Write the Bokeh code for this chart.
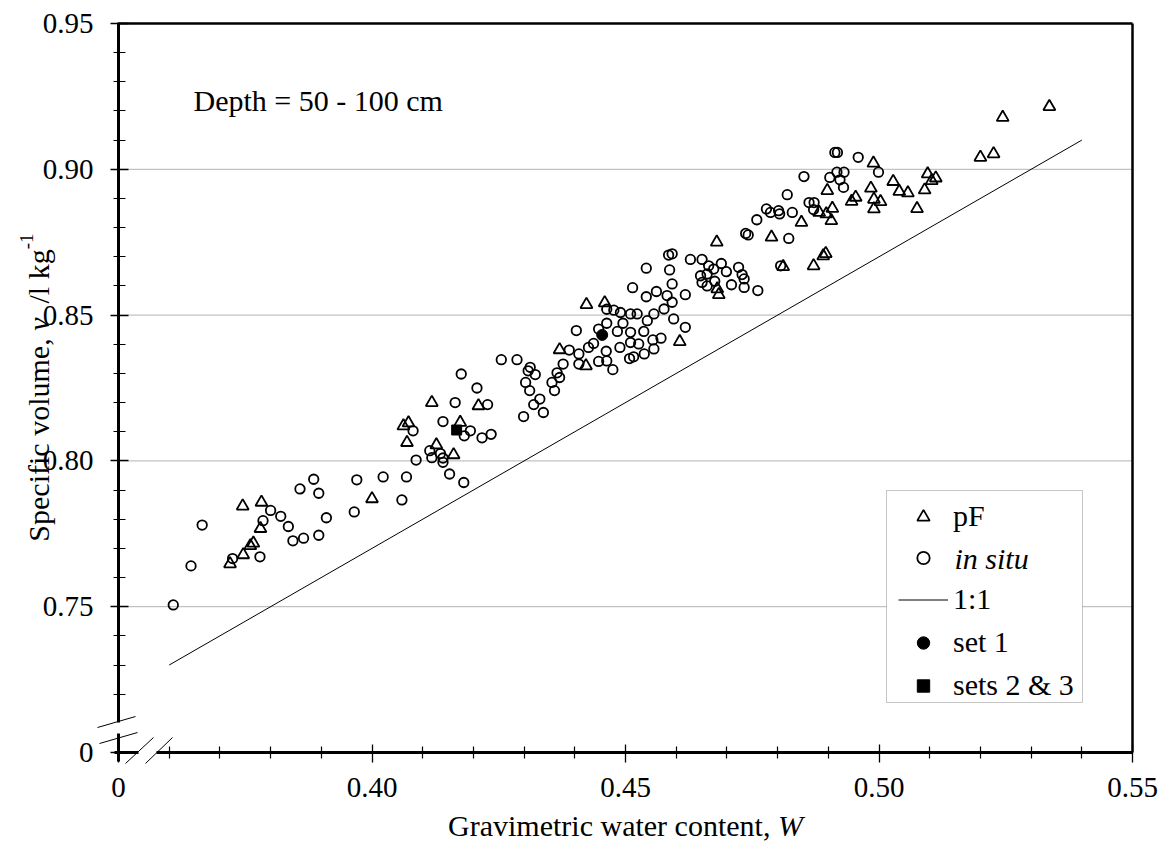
import math
from bokeh.plotting import figure
from bokeh.models import (FixedTicker, NumeralTickFormatter, LinearAxis, Range1d,
                          Legend, LegendItem, Label, Arrow, BoxAnnotation)
from bokeh.core.properties import value
from bokeh.embed import file_html
from bokeh.resources import INLINE

FONT = "Liberation Serif"
FS = 29      # tick labels
TS = 30      # other texts

# ---------------- data ----------------
pf_w = [0.3720, 0.3746, 0.3760, 0.3766, 0.3745, 0.3782, 0.3780,
        0.4000, 0.4062, 0.4072, 0.4069, 0.4118, 0.4127, 0.4161, 0.4174, 0.4210,
        0.4370, 0.4422, 0.4423, 0.4459, 0.4607,
        0.4681, 0.4684, 0.4680, 0.4788, 0.4811, 0.4871, 0.4890, 0.4895, 0.4847,
        0.4882, 0.4896, 0.4906, 0.4908, 0.4898, 0.4946, 0.4954, 0.4984, 0.4989,
        0.4990, 0.5003, 0.4990, 0.5028, 0.5040, 0.5057, 0.5096, 0.5112, 0.5104,
        0.5090, 0.5075, 0.5200, 0.5226, 0.5244, 0.5336]
pf_v = [0.7647, 0.7678, 0.7709, 0.7718, 0.7845, 0.7858, 0.7768,
        0.7870, 0.8120, 0.8130, 0.8063, 0.8200, 0.8055, 0.8021, 0.8132, 0.8189,
        0.8381, 0.8326, 0.8536, 0.8542, 0.8409,
        0.8590, 0.8570, 0.8750, 0.8767, 0.8666, 0.8669, 0.8703, 0.8711, 0.8818,
        0.8852, 0.8847, 0.8824, 0.8866, 0.8927, 0.8890, 0.8904, 0.8935, 0.9021,
        0.8897, 0.8889, 0.8864, 0.8958, 0.8924, 0.8919, 0.8984, 0.8970, 0.8961,
        0.8929, 0.8865, 0.9041, 0.9053, 0.9178, 0.9215]

situ_w = [0.3608, 0.3643, 0.3725, 0.3779, 0.3844, 0.3665, 0.3785, 0.3800, 0.3820,
          0.3835, 0.3865, 0.3895, 0.3910, 0.3965,
          0.3858, 0.3885, 0.3895, 0.3970, 0.4022, 0.4059, 0.4068, 0.4081, 0.4087,
          0.4114, 0.4118, 0.4135, 0.4140, 0.4140, 0.4140, 0.4153, 0.4164, 0.4181,
          0.4182, 0.4194, 0.4207, 0.4217, 0.4228, 0.4235, 0.4176,
          0.4514, 0.4541, 0.4561, 0.4582, 0.4592, 0.4618, 0.4463, 0.4477, 0.4490,
          0.4510, 0.4523, 0.4556, 0.4576, 0.4592, 0.4595, 0.4543, 0.4495, 0.4463,
          0.4618, 0.4403, 0.4447, 0.4484, 0.4510, 0.4536, 0.4437, 0.4427, 0.4462,
          0.4489, 0.4510, 0.4526, 0.4554, 0.4570, 0.4556, 0.4537, 0.4516, 0.4508,
          0.4463, 0.4447, 0.4475, 0.4408, 0.4408, 0.4389, 0.4377, 0.4365, 0.4370,
          0.4355, 0.4360, 0.4255, 0.4286, 0.4312, 0.4308, 0.4322, 0.4303, 0.4311,
          0.4331, 0.4319, 0.4338, 0.4299,
          0.4913, 0.4918, 0.4959, 0.4999, 0.4852, 0.4903, 0.4917, 0.4931, 0.4923,
          0.4930, 0.4819, 0.4862, 0.4872, 0.4871, 0.4778, 0.4786, 0.4802, 0.4804,
          0.4829, 0.4759, 0.4737, 0.4742, 0.4822, 0.4592, 0.4585, 0.4541, 0.4587,
          0.4628, 0.4651, 0.4664, 0.4674, 0.4689, 0.4648, 0.4661, 0.4699, 0.4723,
          0.4730, 0.4734, 0.4651, 0.4661, 0.4676, 0.4709, 0.4734, 0.4761, 0.4806]
situ_v = [0.7506, 0.7640, 0.7665, 0.7671, 0.7726, 0.7780, 0.7795, 0.7830, 0.7810,
          0.7775, 0.7735, 0.7745, 0.7805, 0.7825,
          0.7904, 0.7937, 0.7889, 0.7935, 0.7945, 0.7866, 0.7945, 0.8103, 0.8003,
          0.8035, 0.8011, 0.8025, 0.8010, 0.7995, 0.8135, 0.7955, 0.8200, 0.7926,
          0.8086, 0.8103, 0.8250, 0.8079, 0.8193, 0.8091, 0.8298,
          0.8594, 0.8563, 0.8581, 0.8567, 0.8607, 0.8570, 0.8520, 0.8517, 0.8509,
          0.8504, 0.8504, 0.8504, 0.8521, 0.8544, 0.8487, 0.8481, 0.8472, 0.8472,
          0.8458, 0.8447, 0.8452, 0.8444, 0.8441, 0.8444, 0.8403, 0.8389, 0.8376,
          0.8389, 0.8406, 0.8401, 0.8415, 0.8421, 0.8384, 0.8367, 0.8357, 0.8351,
          0.8343, 0.8341, 0.8313, 0.8332, 0.8367, 0.8380, 0.8332, 0.8302, 0.8286,
          0.8269, 0.8241, 0.8347, 0.8347, 0.8321, 0.8309, 0.8296, 0.8269, 0.8241,
          0.8212, 0.8193, 0.8166, 0.8152,
          0.9058, 0.9058, 0.9041, 0.8990, 0.8975, 0.8972, 0.8990, 0.8990, 0.8964,
          0.8938, 0.8913, 0.8886, 0.8886, 0.8862, 0.8864, 0.8852, 0.8858, 0.8847,
          0.8852, 0.8827, 0.8780, 0.8775, 0.8763, 0.8710, 0.8706, 0.8661, 0.8655,
          0.8691, 0.8691, 0.8669, 0.8658, 0.8677, 0.8635, 0.8641, 0.8649, 0.8664,
          0.8639, 0.8624, 0.8612, 0.8600, 0.8616, 0.8604, 0.8595, 0.8584, 0.8669]

set1_w = [0.4454]
set1_v = [0.8432]
set23_w = [0.4167]
set23_v = [0.8106]

line_w = [0.360, 0.540]   # 1:1 line
line_v = [0.730, 0.910]

x_ticks = [0.35, 0.40, 0.45, 0.50, 0.55]
x_tick_labels = ["0", "0.40", "0.45", "0.50", "0.55"]
x_minor = [0.36, 0.37, 0.38, 0.39, 0.41, 0.42, 0.43, 0.44, 0.46, 0.47, 0.48,
           0.49, 0.51, 0.52, 0.53, 0.54]
y_ticks = [0.70, 0.75, 0.80, 0.85, 0.90, 0.95]
y_tick_labels = ["0", "0.75", "0.80", "0.85", "0.90", "0.95"]
y_minor = [0.72, 0.73, 0.74, 0.76, 0.77, 0.78, 0.79, 0.81, 0.82, 0.83, 0.84,
           0.86, 0.87, 0.88, 0.89, 0.91, 0.92, 0.93, 0.94]
grid_ticks = [0.75, 0.80, 0.85, 0.90]

# ---------------- layout ----------------
W, H = 1170, 844
FL, FT, FRX, FBY = 118, 23, 1132, 752      # data-area edges in page pixels
X0, X1 = 0.35, 0.55
Y0, Y1 = 0.70, 0.95
KX = (FRX - FL) / (X1 - X0)
KY = (FBY - FT) / (Y1 - Y0)


def dx(sx):
    return X0 + (sx - FL) / KX


def dy(sy):
    return Y0 + (FBY - sy) / KY


p = figure(width=W, height=H, x_range=Range1d(dx(0), dx(W)),
           y_range=Range1d(dy(H), dy(0)),
           output_backend="svg", toolbar_location=None,
           x_axis_location=None, y_axis_location=None,
           min_border_left=0, min_border_bottom=0, min_border_top=0,
           min_border_right=0)
p.outline_line_color = None
p.background_fill_color = "white"
p.border_fill_color = "white"
p.grid.visible = False


def style_axis(ax, tin, tout, mtin, mtout, standoff, lw=3):
    ax.axis_line_width = lw
    ax.axis_line_color = "black"
    ax.major_tick_in = tin
    ax.major_tick_out = tout
    ax.minor_tick_in = mtin
    ax.minor_tick_out = mtout
    ax.major_tick_line_width = 1.3
    ax.minor_tick_line_width = 1.2
    ax.major_label_text_font = FONT
    ax.major_label_text_font_size = f"{FS}px"
    ax.major_label_text_color = "black"
    ax.major_label_standoff = standoff


xfmt = {t: s for t, s in zip(x_ticks, x_tick_labels)}
yfmt = {t: s for t, s in zip(y_ticks, y_tick_labels)}

# x axis: main part and the short stub before the break
xa = LinearAxis(fixed_location=Y0, bounds=(dx(156), X1),
                ticker=FixedTicker(ticks=x_ticks[1:], minor_ticks=x_minor),
                formatter=NumeralTickFormatter(format="0.00"),
                major_label_overrides={t: xfmt[t] for t in x_ticks[1:]})
style_axis(xa, 8, 10, 6, 6, 15)
p.add_layout(xa, "below")
xs = LinearAxis(fixed_location=Y0, bounds=(dx(114), dx(138)),
                ticker=FixedTicker(ticks=x_ticks[:1], minor_ticks=[]),
                major_label_overrides={x_ticks[0]: xfmt[x_ticks[0]]})
style_axis(xs, 8, 10, 6, 6, 15)
p.add_layout(xs, "below")

# y axis: main part and the short stub below the break
ya = LinearAxis(fixed_location=X0, bounds=(dy(722), Y1),
                ticker=FixedTicker(ticks=y_ticks[1:], minor_ticks=y_minor),
                formatter=NumeralTickFormatter(format="0.00"),
                major_label_overrides={t: yfmt[t] for t in y_ticks[1:]})
style_axis(ya, 10, 8, 7, 5, 17)
p.add_layout(ya, "left")
ys = LinearAxis(fixed_location=X0, bounds=(dy(761), dy(733)),
                ticker=FixedTicker(ticks=y_ticks[:1], minor_ticks=[]),
                major_label_overrides={y_ticks[0]: yfmt[y_ticks[0]]})
style_axis(ys, 10, 8, 7, 5, 17)
p.add_layout(ys, "left")

# top and right frame lines
top_ax = LinearAxis(fixed_location=Y1, ticker=FixedTicker(ticks=[]), bounds=(dx(116.5), X1),
                    major_label_text_font_size="0px")
style_axis(top_ax, 0, 0, 0, 0, 0, lw=2.5)
p.add_layout(top_ax, "above")
right_ax = LinearAxis(fixed_location=X1, ticker=FixedTicker(ticks=[]), bounds=(Y0, Y1),
                      major_label_text_font_size="0px")
style_axis(right_ax, 0, 0, 0, 0, 0, lw=2.5)
p.add_layout(right_ax, "right")

# dotted horizontal grid lines
p.segment(x0=[X0] * len(grid_ticks), y0=grid_ticks, x1=[X1] * len(grid_ticks),
          y1=grid_ticks, line_color="#666666", line_dash="1 1", line_width=1)

# ---------------- glyphs ----------------
r_pf = p.scatter(pf_w, pf_v, marker="triangle", size=12, fill_color=None,
                 line_color="black", line_width=1.8)
r_situ = p.scatter(situ_w, situ_v, marker="circle", size=9.5, fill_color=None,
                   line_color="black", line_width=1.8)
r_line = p.line(line_w, line_v, line_color="black", line_width=1)
r_s1 = p.scatter(set1_w, set1_v, marker="circle", size=11, fill_color="black",
                 line_color="black")
r_s23 = p.scatter(set23_w, set23_v, marker="square", size=10, fill_color="black",
                  line_color="black")

# ---------------- axis-break marks ----------------
for (x0, y0, x1, y1) in [(97, 727, 135, 716), (99, 743, 137, 732),
                         (125, 763, 153, 737), (145, 763, 172, 737)]:
    p.add_layout(Arrow(end=None, x_start=dx(x0), y_start=dy(y0), x_end=dx(x1),
                       y_end=dy(y1), line_color="black", line_width=1))

# ---------------- legend ----------------
p.add_layout(BoxAnnotation(left=dx(886), right=dx(1082), top=dy(490), bottom=dy(702),
                           fill_color="white", fill_alpha=1, line_color="#444444",
                           line_width=1))
legend = Legend(items=[
    LegendItem(label=value("pF"), renderers=[r_pf]),
    LegendItem(label=value(" "), renderers=[r_situ]),
    LegendItem(label=value("1:1"), renderers=[r_line]),
    LegendItem(label=value("set 1"), renderers=[r_s1]),
    LegendItem(label=value("sets 2 & 3"), renderers=[r_s23]),
], location=(898, H - 702), glyph_width=50, glyph_height=31,
    label_height=31, spacing=9, padding=0, label_standoff=5, margin=0,
    border_line_color=None, background_fill_alpha=0,
    label_text_font=FONT, label_text_font_size=f"{TS}px", label_text_color="black")
p.add_layout(legend)

p.add_layout(Label(x=dx(954), y=dy(557.5), text="in situ", text_font=FONT,
                   text_font_size=f"{TS}px", text_font_style="italic",
                   text_color="black", text_baseline="middle", text_align="left"))

# ---------------- texts ----------------
p.add_layout(Label(x=dx(193), y=dy(100), text="Depth = 50 - 100 cm", text_font=FONT,
                   text_font_size=f"{TS}px", text_color="black",
                   text_baseline="alphabetic"))

TIMES = {' ': 250, 'S': 556, 'p': 500, 'e': 444, 'c': 444, 'i': 278, 'f': 333,
         'o': 500, 'v': 500, 'l': 278, 'u': 500, 'm': 778, ',': 250, '/': 278,
         'k': 500, 'g': 500, '-': 333, '1': 500, 'G': 722, 'r': 333, 'a': 444,
         't': 278, 'w': 722, 'n': 500}
TIMES_IT = {'v': 444, 'W': 833}


def tw(s, size, table):
    return sum(table.get(c, 500) for c in s) * size / 1000.0


# x axis title
xt1 = "Gravimetric water content, "
xt2 = "W"
total = tw(xt1, TS, TIMES) + tw(xt2, TS, TIMES_IT)
sx = (FL + FRX) / 2 - total / 2
p.add_layout(Label(x=dx(sx), y=dy(825), text=xt1, text_font=FONT,
                   text_font_size=f"{TS}px", text_color="black",
                   text_baseline="alphabetic"))
p.add_layout(Label(x=dx(sx + tw(xt1, TS, TIMES)), y=dy(825), text=xt2, text_font=FONT,
                   text_font_size=f"{TS}px", text_font_style="italic", text_color="black",
                   text_baseline="alphabetic"))

# y axis title (rotated)
parts = [("Specific volume, ", TS, "normal", TIMES, 0, 0),
         ("v", TS, "italic", TIMES_IT, 0, 14),
         ("/l kg", TS, "normal", TIMES, 0, 0),
         ("-1", 19, "normal", TIMES, -12, 0)]
ylen = sum(tw(t, s, tb) + g for t, s, _, tb, _, g in parts)
ybase = 38
cur = 233 + ylen
for txt, size, style, table, off, gap in parts:
    p.add_layout(Label(x=dx(ybase + off), y=dy(cur), text=txt, text_font=FONT,
                       text_font_size=f"{size}px", text_font_style=style,
                       text_color="black", angle=math.pi / 2,
                       text_baseline="alphabetic", text_align="left"))
    cur -= tw(txt, size, table) + gap

open("out.html", "w").write(file_html(p, INLINE))
